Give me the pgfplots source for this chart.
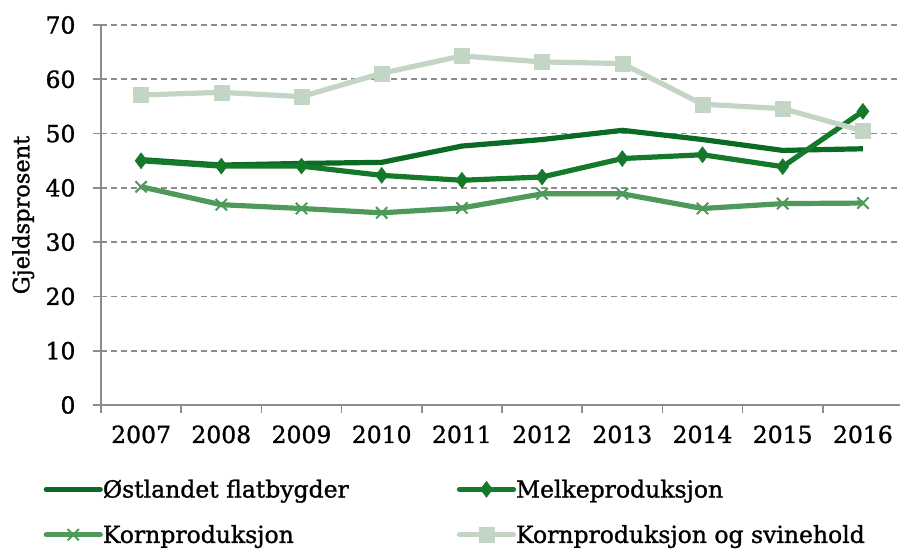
\documentclass[border=0pt]{standalone}
\usepackage{fontspec}
\setmainfont{DejaVu Serif}[FakeBold=1.2]
\usepackage{pgfplots}
\pgfplotsset{compat=1.18}
\definecolor{cOst}{HTML}{0B6B25}
\definecolor{cMelk}{HTML}{14792B}
\definecolor{cKorn}{HTML}{4F9A5A}
\definecolor{cSvin}{HTML}{C3D6C5}
\definecolor{cGrid}{HTML}{8C8C8C}
\begin{document}
\begin{tikzpicture}
\useasboundingbox (-101pt,-146pt) rectangle (799pt,405pt);
\begin{axis}[
  at={(0,0)}, anchor=south west,
  scale only axis, width=802pt, height=380pt,
  xmin=-0.5, xmax=9.5, ymin=0, ymax=70,
  axis x line*=bottom, axis y line*=left,
  axis line style={cGrid, line width=1.6pt, -},
  xtick={0,...,9},
  xticklabels={2007,2008,2009,2010,2011,2012,2013,2014,2015,2016},
  minor xtick={-0.5,0.5,...,9.5},
  ytick={0,10,...,70},
  major x tick style={draw=none},
  minor tick length=8pt,
  major tick length=8pt,
  tick align=outside,
  tick style={cGrid, line width=1.6pt},
  ymajorgrids,
  major grid style={cGrid, line width=1.6pt, dash pattern=on 6pt off 4pt},
  /pgf/number format/assume math mode=true,
  tick label style={font=\fontsize{23.5}{28}\selectfont},
  xticklabel style={yshift=-9pt},
  yticklabel style={xshift=-14pt},
  ylabel={Gjeldsprosent},
  ylabel style={font=\fontsize{22.5}{26}\selectfont, at={(axis description cs:-0.097,0.5)}, anchor=center, rotate=0},
  legend columns=2,
  legend cell align=left,
  legend style={at={(axis description cs:-0.0717,-0.196)}, anchor=north west, draw=none, fill=none,
    font=\fontsize{23.5}{28}\selectfont, inner sep=0pt,
    /tikz/every even column/.append style={column sep=108pt},
    row sep=26pt,
    nodes={inner xsep=0pt, inner ysep=0pt}},
  legend image code/.code={\draw[#1, mark=none, line cap=round] (0pt,0pt) -- (54pt,0pt);
     \draw[#1, draw=none] plot[mark repeat=2, mark phase=2] coordinates {(0pt,0pt) (27pt,0pt) (54pt,0pt)};},
]
\addplot[cOst, line width=5.2pt, no markers, line join=round] coordinates {
(0,45.2) (1,44.2) (2,44.5) (3,44.7) (4,47.7) (5,48.9) (6,50.6) (7,48.9) (8,46.9) (9,47.2)};
\addlegendentry{Østlandet flatbygder}
\addplot[cMelk, line width=5.2pt, line join=round, mark=diamond*, mark size=8pt, mark options={solid, line width=0.5pt, fill=cMelk}] coordinates {
(0,45.0) (1,44.0) (2,44.0) (3,42.3) (4,41.4) (5,42.0) (6,45.4) (7,46.1) (8,43.9) (9,54.1)};
\addlegendentry{Melkeproduksjon}
\addplot[cKorn, line width=5.2pt, line join=round, mark=x, mark size=8pt, mark options={solid, line width=2pt}] coordinates {
(0,40.2) (1,36.9) (2,36.2) (3,35.4) (4,36.3) (5,38.9) (6,38.9) (7,36.2) (8,37.1) (9,37.2)};
\addlegendentry{Kornproduksjon}
\addplot[cSvin, line width=5.2pt, line join=round, mark=square*, mark size=7.5pt, mark options={solid, line width=0.5pt, fill=cSvin}] coordinates {
(0,57.1) (1,57.6) (2,56.8) (3,61.1) (4,64.3) (5,63.2) (6,62.9) (7,55.4) (8,54.6) (9,50.5)};
\addlegendentry{Kornproduksjon og svinehold}
\end{axis}
\end{tikzpicture}
\end{document}
